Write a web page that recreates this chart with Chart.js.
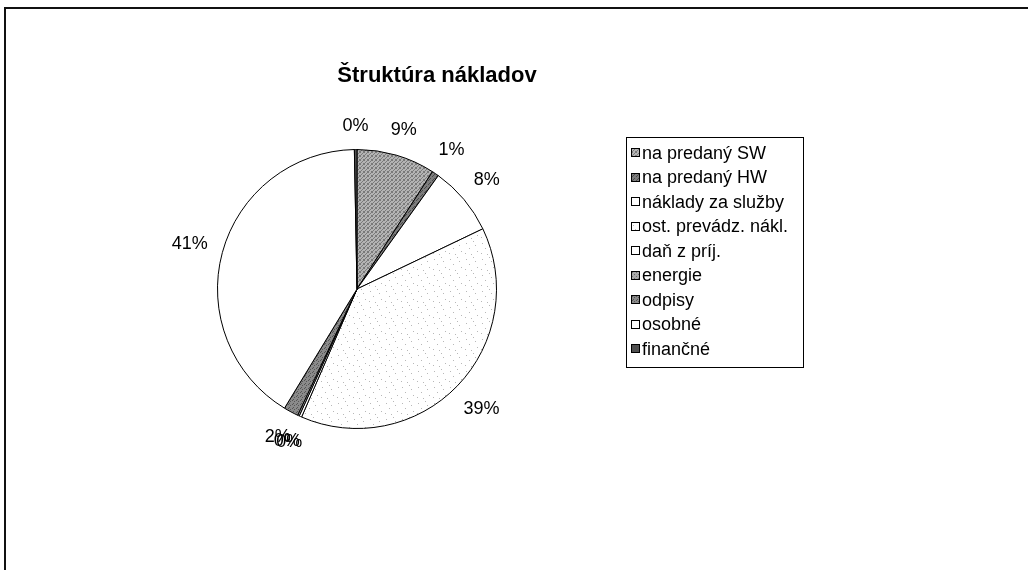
<!DOCTYPE html>
<html>
<head>
<meta charset="utf-8">
<script src="https://cdn.jsdelivr.net/npm/chart.js@4/dist/chart.umd.min.js"></script>
<style>
  html, body { margin: 0; padding: 0; background: #fff; }
  #wrap { width: 1028px; height: 570px; }
</style>
</head>
<body>
<div id="wrap"><canvas id="pieChart" width="1028" height="570"></canvas></div>
<script>
// Data (share of costs, %)
const categories = ['na predaný SW', 'na predaný HW', 'náklady za služby', 'ost. prevádz. nákl.',
                    'daň z príj.', 'energie', 'odpisy', 'osobné', 'finančné'];
const costShares = [9.1, 0.8, 8.0, 38.6, 0.3, 0.2, 1.7, 41.0, 0.3];
const chartTitle = 'Štruktúra nákladov';

const FONT = '"Liberation Sans", Arial, sans-serif';

// small fill patterns like the scanned Excel chart
function makePattern(bg, fg, dots, size) {
    const c = document.createElement('canvas');
    c.width = size; c.height = size;
    const g = c.getContext('2d');
    g.fillStyle = bg; g.fillRect(0, 0, size, size);
    g.fillStyle = fg;
    dots.forEach(p => g.fillRect(p[0], p[1], 1, 1));
    return g.createPattern(c, 'repeat');
}
const pctx = document.getElementById('pieChart').getContext('2d');
const swFill = makePattern('#b4b4b4', '#7a7a7a', [[0,0],[2,1],[1,2],[3,3],[3,0],[0,3]], 4);
const hwFill = makePattern('#7c7c7c', '#4a4a4a', [[0,0],[2,2],[1,3]], 4);
const ostFill = makePattern('#ffffff', '#b8b8b8', [[2,3],[9,1],[5,8],[13,11],[1,13],[11,5],[7,14]], 16);
const enFill = makePattern('#a8a8a8', '#6a6a6a', [[0,0],[2,2]], 4);
const odFill = makePattern('#8a8a8a', '#555555', [[0,0],[2,1],[1,3]], 4);
const sliceColors = [swFill, hwFill, '#ffffff', ostFill, '#ffffff', enFill, odFill, '#ffffff', '#505050'];

const CX = 357, CY = 289, R = 140;

// ramik grafu (horny a lavy okraj)
const framePlugin = {
    id: 'frame',
    beforeDraw(chart) {
        const c = chart.ctx;
        c.save();
        c.fillStyle = '#fff';
        c.fillRect(0, 0, chart.width, chart.height);
        c.fillStyle = '#111';
        c.fillRect(4, 7, chart.width - 4, 2);
        c.fillRect(4, 7, 2, chart.height - 7);
        c.restore();
    }
};

// percentualne popisky mimo kolaca + nadpis + legenda
const labelPlugin = {
    id: 'outLabels',
    afterDraw(chart) {
        const c = chart.ctx;
        const meta = chart.getDatasetMeta(0);
        const data = chart.data.datasets[0].data;
        const total = data.reduce((a, b) => a + b, 0);
        c.save();
        c.font = '18px ' + FONT;
        c.fillStyle = '#000';
        c.textAlign = 'center';
        c.textBaseline = 'middle';
        meta.data.forEach((arc, i) => {
            const mid = (arc.startAngle + arc.endAngle) / 2;
            const dx = Math.cos(mid), dy = Math.sin(mid);
            const txt = Math.round(data[i] / total * 100) + '%';
            const w = c.measureText(txt).width, h = 18;
            const ext = Math.abs(dx) * w / 2 + Math.abs(dy) * h / 2;
            const dist = arc.outerRadius + 14 + ext;
            c.fillText(txt, arc.x + dx * dist, arc.y + dy * dist);
        });

        // nadpis
        c.font = 'bold 22px ' + FONT;
        c.fillText(chartTitle, 437, 76);

        // legenda
        const lx = 626, ly = 137, lw = 177, lh = 230;
        c.strokeStyle = '#000';
        c.lineWidth = 1;
        c.strokeRect(lx + 0.5, ly + 0.5, lw, lh);
        c.font = '18px ' + FONT;
        c.textAlign = 'left';
        chart.data.labels.forEach((lab, i) => {
            const y = 153 + i * 24.5;
            c.fillStyle = sliceColors[i];
            c.fillRect(631, Math.round(y) - 5, 9, 9);
            c.strokeRect(631.5, Math.round(y) - 4.5, 8, 8);
            c.fillStyle = '#000';
            c.fillText(lab, 642, y + 1);
        });
        c.restore();
    }
};

new Chart(pctx, {
    type: 'pie',
    data: {
        labels: categories,
        datasets: [{
            data: costShares,
            backgroundColor: sliceColors,
            borderColor: '#000',
            borderWidth: 1
        }]
    },
    options: {
        responsive: false,
        animation: false,
        layout: {
            padding: { left: CX - R, right: 1028 - (CX + R), top: CY - R, bottom: 570 - (CY + R) }
        },
        plugins: {
            legend: { display: false },
            title: { display: false },
            tooltip: { enabled: false }
        }
    },
    plugins: [framePlugin, labelPlugin]
});
</script>
</body>
</html>
